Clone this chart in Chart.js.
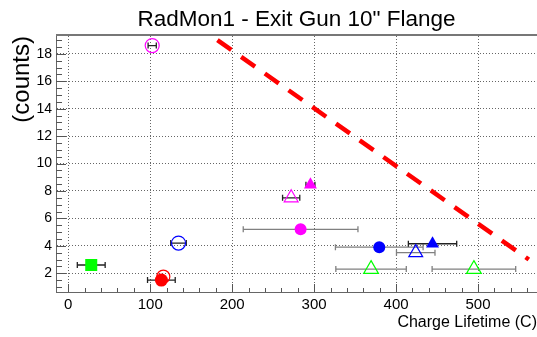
<!DOCTYPE html>
<html>
<head>
<meta charset="utf-8">
<script src="https://cdn.jsdelivr.net/npm/chart.js@4.4.1/dist/chart.umd.min.js"></script>
<style>
  html, body { margin: 0; padding: 0; background: #fff; }
  canvas { display: block; }
</style>
</head>
<body>
<canvas id="chart" width="537" height="337"></canvas>
<script>
// values, one entry per marker
const seriesNames = ['run A', 'run B', 'run C', 'run C2', 'run D', 'run E', 'run F', 'run G', 'run H', 'run I', 'run J', 'run K', 'run L'];
const lifetime    = [102.4, 28, 113.6, 116, 134.5, 283.5, 272, 295.5, 379.5, 444.5, 424, 369.5, 495];
const lifetimeErr = [5, 17, 16.9, 0, 9.5, 70, 10.5, 5.5, 53.5, 29.5, 23.5, 43, 51];
const counts      = [18.6, 2.6, 1.5, 1.75, 4.2, 5.2, 7.5, 8.45, 3.9, 4.15, 3.5, 2.3, 2.3];

// dashed red limit line
const cutX = [182, 562];
const cutY = [19.0, 3.0];

const xTicks = [0, 100, 200, 300, 400, 500];
const yTicks = [2, 4, 6, 8, 10, 12, 14, 16, 18];

const MAG = '#ff00ff', GRN = '#00ff00', RED = '#ff0000', BLU = '#0000ff';
const BLK = '#222222', GRY = '#808080';
const markerStyles = [
  { shape: 'circle',   color: MAG, fill: false, r: 7,   err: BLK },
  { shape: 'rect',     color: GRN, fill: true,  r: 8.5, err: BLK },
  { shape: 'circle',   color: RED, fill: true,  r: 6.5, err: BLK },
  { shape: 'circle',   color: RED, fill: false, r: 6.5, err: BLK },
  { shape: 'circle',   color: BLU, fill: false, r: 7,   err: BLK },
  { shape: 'circle',   color: MAG, fill: true,  r: 6,   err: GRY },
  { shape: 'triangle', color: MAG, fill: false, r: 8,   err: BLK },
  { shape: 'triangle', color: MAG, fill: true,  r: 7.5, err: BLK },
  { shape: 'circle',   color: BLU, fill: true,  r: 6,   err: GRY },
  { shape: 'triangle', color: BLU, fill: true,  r: 7.5, err: BLK },
  { shape: 'triangle', color: BLU, fill: false, r: 8,   err: GRY },
  { shape: 'triangle', color: GRN, fill: false, r: 8.5, err: GRY },
  { shape: 'triangle', color: GRN, fill: false, r: 8.5, err: GRY }
];

const textFont = "'Liberation Sans', Arial, sans-serif";

const datasets = lifetime.map((x, i) => {
  const s = markerStyles[i];
  return {
    type: 'scatter',
    label: seriesNames[i],
    data: [{ x: x, y: counts[i] }],
    pointStyle: s.shape,
    pointRadius: s.r,
    pointHoverRadius: s.r,
    backgroundColor: s.fill ? s.color : 'rgba(0,0,0,0)',
    borderColor: s.color,
    borderWidth: s.fill ? 0 : 1.2
  };
});
datasets.push({
  type: 'line',
  label: 'limit',
  data: cutX.map((x, i) => ({ x: x, y: cutY[i] })),
  borderColor: RED,
  borderWidth: 4.5,
  borderDash: [17, 12],
  pointRadius: 0,
  fill: false
});

// horizontal error bars with end caps
const errorBars = {
  id: 'errorBars',
  beforeDatasetsDraw(chart) {
    const { ctx, scales: { x, y } } = chart;
    ctx.save();
    lifetime.forEach((v, i) => {
      const e = lifetimeErr[i];
      if (!e) return;
      const py = y.getPixelForValue(counts[i]);
      const x0 = x.getPixelForValue(v - e);
      const x1 = x.getPixelForValue(v + e);
      ctx.strokeStyle = markerStyles[i].err;
      ctx.lineWidth = 1.3;
      ctx.beginPath();
      ctx.moveTo(x0, py); ctx.lineTo(x1, py);
      ctx.moveTo(x0, py - 3); ctx.lineTo(x0, py + 3);
      ctx.moveTo(x1, py - 3); ctx.lineTo(x1, py + 3);
      ctx.stroke();
    });
    ctx.restore();
  }
};

// ROOT style inward ticks + top frame line
const rootFrame = {
  id: 'rootFrame',
  afterDraw(chart) {
    const { ctx, chartArea: a, scales: { x, y } } = chart;
    ctx.save();
    ctx.strokeStyle = '#555';
    ctx.lineWidth = 1;
    ctx.beginPath();
    for (let v = 0; v <= x.max; v += 20) {
      const px = Math.round(x.getPixelForValue(v)) + 0.5;
      const len = v % 100 === 0 ? 8 : 4;
      ctx.moveTo(px, a.bottom); ctx.lineTo(px, a.bottom - len);
    }
    for (let v = 1; v <= y.max; v += 0.5) {
      const py = Math.round(y.getPixelForValue(v)) + 0.5;
      const len = v % 2 === 0 ? 10 : 6;
      ctx.moveTo(a.left, py); ctx.lineTo(a.left + len, py);
    }
    ctx.stroke();
    ctx.strokeStyle = '#777';
    ctx.lineWidth = 2;
    ctx.beginPath();
    ctx.moveTo(a.left, a.top - 1); ctx.lineTo(a.right, a.top - 1);
    ctx.stroke();
    ctx.restore();
  }
};

new Chart(document.getElementById('chart').getContext('2d'), {
  data: { datasets: datasets },
  plugins: [errorBars, rootFrame],
  options: {
    responsive: false,
    animation: false,
    layout: { padding: 0, autoPadding: false },
    plugins: {
      legend: { display: false },
      tooltip: { enabled: false },
      title: {
        display: true,
        text: 'RadMon1 - Exit Gun 10" Flange',
        fullSize: false,
        color: '#000',
        font: { family: textFont, size: 22.5, weight: 'normal' },
        padding: { top: 6, bottom: 3 }
      }
    },
    scales: {
      x: {
        type: 'linear',
        position: 'bottom',
        min: -15,
        max: 572,
        afterBuildTicks: s => { s.ticks = xTicks.map(v => ({ value: v })); },
        afterFit: s => { s.height = 45; s.paddingLeft = 0; s.paddingRight = 0; },
        grid: { color: '#666', lineWidth: 1, drawTicks: false },
        border: { display: true, color: '#666', width: 1, dash: [1, 2] },
        ticks: {
          color: '#000', padding: 4, maxRotation: 0, autoSkip: false,
          font: { family: textFont, size: 15 }
        },
        title: {
          display: true, text: 'Charge Lifetime (C)', align: 'end', color: '#000',
          font: { family: textFont, size: 16 }, padding: { top: 0, bottom: 5 }
        }
      },
      y: {
        type: 'linear',
        position: 'left',
        min: 0.63,
        max: 19.3,
        afterBuildTicks: s => { s.ticks = yTicks.map(v => ({ value: v })); },
        afterFit: s => { s.width = 56; s.paddingTop = 0; s.paddingBottom = 0; },
        grid: { color: '#666', lineWidth: 1, drawTicks: false },
        border: { display: true, color: '#666', width: 1, dash: [1, 2] },
        ticks: {
          color: '#000', padding: 4, autoSkip: false,
          font: { family: textFont, size: 14 }
        },
        title: {
          display: true, text: '(counts)', align: 'end', color: '#000',
          font: { family: textFont, size: 24 }, padding: { top: 8, bottom: 0 }
        }
      }
    }
  }
});
</script>
</body>
</html>
